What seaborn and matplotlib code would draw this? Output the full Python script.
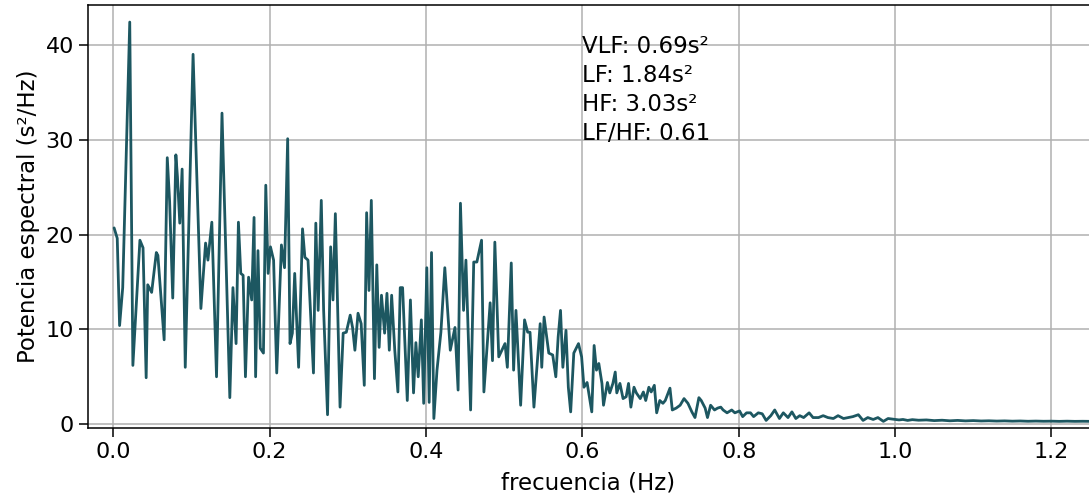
import matplotlib
matplotlib.use("Agg")
import matplotlib.pyplot as plt
import seaborn as sns
import pandas as pd

# frequency (Hz) of each vertex
freq = [
    0.001, 0.005, 0.008, 0.012, 0.021, 0.025, 0.034, 0.038, 0.042, 0.044,
    0.049, 0.055, 0.057, 0.065, 0.069, 0.072, 0.076, 0.080, 0.082, 0.085,
    0.088, 0.092, 0.102, 0.112, 0.118, 0.121, 0.126, 0.132, 0.139, 0.149,
    0.153, 0.157, 0.160, 0.163, 0.166, 0.169, 0.173, 0.177, 0.180, 0.182,
    0.185, 0.188, 0.192, 0.195, 0.198, 0.201, 0.205, 0.209, 0.215, 0.219,
    0.223, 0.226, 0.229, 0.232, 0.237, 0.242, 0.245, 0.249, 0.256, 0.259,
    0.262, 0.266, 0.269, 0.274, 0.278, 0.281, 0.284, 0.290, 0.294, 0.298,
    0.303, 0.306, 0.309, 0.313, 0.317, 0.321, 0.324, 0.327, 0.330, 0.334,
    0.337, 0.340, 0.343, 0.347, 0.350, 0.353, 0.356, 0.360, 0.364, 0.367,
    0.370, 0.376, 0.380, 0.384, 0.387, 0.390, 0.394, 0.397, 0.401, 0.404,
    0.407, 0.410, 0.414, 0.419, 0.424, 0.431, 0.437, 0.441, 0.444, 0.448,
    0.451, 0.457, 0.461, 0.465, 0.471, 0.474, 0.482, 0.485, 0.488, 0.493,
    0.497, 0.501, 0.504, 0.509, 0.512, 0.515, 0.521, 0.526, 0.530, 0.533,
    0.538, 0.546, 0.548, 0.551, 0.557, 0.562, 0.566, 0.569, 0.572, 0.575,
    0.579, 0.582, 0.585, 0.589, 0.595, 0.599, 0.602, 0.606, 0.612, 0.615,
    0.618, 0.621, 0.625, 0.627, 0.632, 0.635, 0.639, 0.642, 0.644, 0.648,
    0.652, 0.656, 0.659, 0.662, 0.666, 0.669, 0.674, 0.678, 0.681, 0.685,
    0.688, 0.692, 0.695, 0.699, 0.703, 0.706, 0.712, 0.715, 0.720, 0.725,
    0.730, 0.735, 0.740, 0.744, 0.749, 0.752, 0.757, 0.760, 0.764, 0.769,
    0.773, 0.777, 0.780, 0.785, 0.791, 0.795, 0.801, 0.805, 0.810, 0.815,
    0.819, 0.825, 0.830, 0.835, 0.841, 0.846, 0.852, 0.857, 0.863, 0.868,
    0.873, 0.878, 0.883, 0.890, 0.895, 0.902, 0.908, 0.914, 0.921, 0.927,
    0.934, 0.940, 0.946, 0.953, 0.959, 0.965, 0.972, 0.978, 0.985, 0.991,
    1.000, 1.005, 1.010, 1.016, 1.022, 1.030, 1.040, 1.050, 1.060, 1.070,
    1.080, 1.090, 1.100, 1.110, 1.120, 1.130, 1.140, 1.150, 1.160, 1.170,
    1.180, 1.190, 1.200, 1.210, 1.220, 1.230, 1.240, 1.250, 1.270,
]

# spectral power (s^2/Hz) at each vertex
power = [
    20.7, 19.6, 10.4, 14.4, 42.4, 6.2, 19.4, 18.6, 4.9, 14.7,
    13.9, 18.1, 17.8, 8.9, 28.1, 23.5, 13.3, 28.4, 26.1, 21.2,
    26.9, 6.0, 39.0, 12.2, 19.1, 17.3, 21.3, 5.0, 32.8, 2.8,
    14.4, 8.5, 21.3, 15.9, 15.7, 5.0, 15.5, 13.1, 21.8, 5.0,
    18.3, 8.0, 7.5, 25.2, 15.9, 18.7, 17.3, 5.4, 18.9, 16.5,
    30.1, 8.5, 9.6, 15.9, 6.0, 20.6, 17.6, 17.3, 5.4, 21.2,
    12.0, 23.6, 12.0, 1.0, 18.7, 13.1, 22.2, 1.8, 9.6, 9.7,
    11.5, 10.2, 7.8, 11.7, 10.6, 4.1, 22.3, 14.1, 23.6, 4.8,
    16.8, 8.1, 13.6, 9.6, 13.8, 7.8, 13.6, 7.8, 3.4, 14.4,
    14.4, 2.5, 13.1, 3.3, 8.6, 5.0, 11.0, 2.2, 16.5, 2.3,
    18.1, 0.6, 5.7, 9.7, 16.5, 7.8, 10.2, 3.6, 23.3, 12.0,
    17.3, 1.5, 17.1, 17.1, 19.4, 3.4, 12.8, 6.7, 19.2, 7.1,
    7.8, 8.5, 6.0, 17.0, 5.7, 12.0, 2.0, 11.0, 9.7, 9.7,
    1.8, 10.6, 6.0, 11.3, 7.5, 7.3, 5.0, 9.2, 12.0, 6.0,
    9.9, 3.9, 1.3, 7.5, 8.5, 7.1, 3.9, 4.4, 1.3, 8.3,
    5.7, 6.4, 4.3, 2.0, 4.4, 3.3, 4.3, 5.5, 3.3, 4.3,
    2.7, 2.9, 4.3, 1.8, 3.9, 3.3, 2.7, 3.4, 2.5, 3.9,
    3.4, 4.1, 1.2, 2.5, 2.2, 2.5, 3.8, 1.5, 1.7, 2.0,
    2.7, 2.2, 1.3, 0.7, 2.8, 2.5, 1.7, 0.7, 2.0, 1.5,
    1.7, 1.8, 1.5, 1.2, 1.5, 1.2, 1.4, 0.8, 1.2, 1.2,
    0.8, 1.2, 1.1, 0.4, 0.9, 1.5, 0.6, 1.2, 0.7, 1.3,
    0.6, 0.9, 0.7, 1.2, 0.7, 0.7, 0.9, 0.7, 0.6, 0.9,
    0.6, 0.7, 0.8, 1.0, 0.4, 0.7, 0.5, 0.7, 0.3, 0.6,
    0.5, 0.45, 0.5, 0.4, 0.48, 0.42, 0.45, 0.38, 0.42, 0.36,
    0.4, 0.35, 0.38, 0.34, 0.36, 0.33, 0.35, 0.32, 0.34, 0.31,
    0.33, 0.31, 0.32, 0.30, 0.32, 0.30, 0.31, 0.30, 0.30,
]

x_ticks = [0.0, 0.2, 0.4, 0.6, 0.8, 1.0, 1.2]
y_ticks = [0, 10, 20, 30, 40]
summary_lines = ["VLF: 0.69s²", "LF: 1.84s²", "HF: 3.03s²", "LF/HF: 0.61"]

sns.set_style("ticks")
plt.rcParams["font.family"] = ["DejaVu Sans"]

df = pd.DataFrame({"frecuencia": freq, "potencia": power})

fig = plt.figure(figsize=(10.89, 4.99), dpi=100)
ax = fig.add_axes([88 / 1089, 71 / 499, 1 - 88 / 1089, 423 / 499])

sns.lineplot(data=df, x="frecuencia", y="potencia", ax=ax,
             color="#1d5761", linewidth=2.0, estimator=None)

ax.set_xlim(-0.0324, 1.248)
ax.set_ylim(-0.4, 44.2)
ax.set_xticks(x_ticks)
ax.set_xticklabels([f"{t:.1f}" for t in x_ticks])
ax.set_yticks(y_ticks)
ax.grid(True, color="#b0b0b0", linewidth=1.1)
ax.set_axisbelow(True)
ax.tick_params(labelsize=16, length=6.5, width=1.1, color="black",
               labelcolor="black")
ax.set_xlabel("frecuencia (Hz)", fontsize=16.5, labelpad=7, color="black")
ax.set_ylabel("Potencia espectral (s²/Hz)", fontsize=16.5, labelpad=4,
              color="black")
for s in ["left", "bottom", "top"]:
    ax.spines[s].set_visible(True)
    ax.spines[s].set_color("black")
    ax.spines[s].set_linewidth(1.1)
ax.spines["right"].set_visible(False)

ax.text(0.6, 41.0, "\n".join(summary_lines), fontsize=16.5,
        va="top", ha="left", color="black", linespacing=1.33)

fig.savefig("out.png", dpi=100)
